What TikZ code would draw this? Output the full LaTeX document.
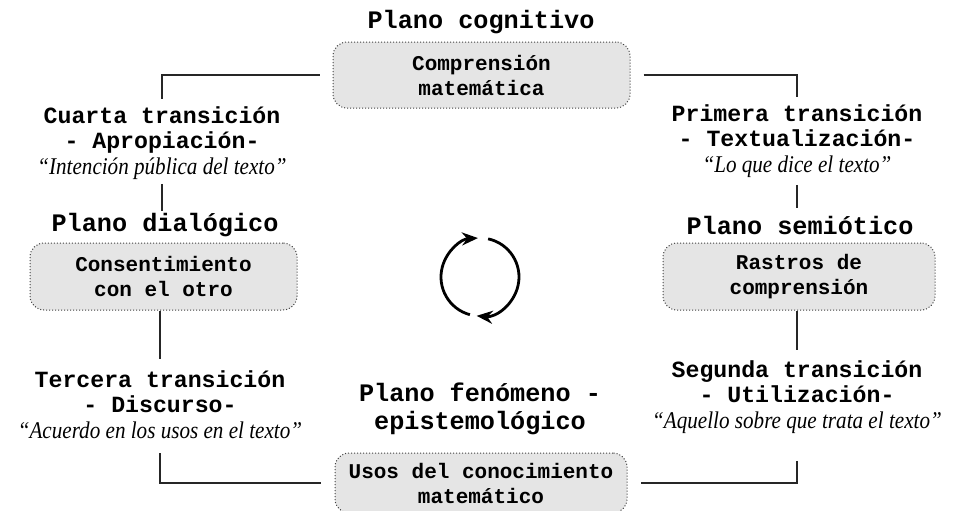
\documentclass[tikz,border=0pt]{standalone}
\usepackage{fontspec}
\setmainfont{Liberation Serif}
\setmonofont{Liberation Mono}
\newfontfamily\cita[FakeStretch=0.88]{Liberation Serif}
\usetikzlibrary{arrows.meta}

\tikzset{
  plano/.style={font=\ttfamily\bfseries\fontsize{12.6}{14}\selectfont, align=center, inner sep=0pt},
  caja/.style={draw=black!75, densely dotted, line width=0.5pt, fill=black!10, rounded corners=7pt,
    align=center, inner sep=0pt, font=\ttfamily\bfseries\fontsize{10.5}{12.5}\selectfont},
  trans/.style={font=\ttfamily\bfseries\fontsize{11.6}{12.3}\selectfont, align=center, inner sep=0pt},
  enlace/.style={draw=black!85, line width=0.6pt},
  giro/.style={line width=1.4pt, -{Stealth[length=8pt,width=6.5pt]}},
}
\newcommand{\frase}[1]{{\cita\mdseries\itshape\fontsize{12}{12.3}\selectfont “#1”}}

\begin{document}
\begin{tikzpicture}[x=0.5pt,y=-0.5pt]
  \useasboundingbox (0,0) rectangle (955,510);

  % planos
  \node[plano] at (481,22) (cogT) {Plano cognitivo};
  \node[caja, minimum width=148.5pt, minimum height=33pt] at (481.5,75) (cog) {Comprensión\\matemática};

  \node[plano] at (165,225) (dialT) {Plano dialógico};
  \node[caja, minimum width=133.5pt, minimum height=33.5pt] at (163.5,276.5) (dial) {Consentimiento\\con el otro};

  \node[plano] at (800,225) (semT) {Plano semiótico};
  \node[caja, minimum width=136pt, minimum height=33.5pt] at (799,276.5) (sem) {Rastros de\\comprensión};

  \node[plano] at (480,409) (epiT) {Plano fenómeno -\\epistemológico};
  \node[caja, minimum width=146pt, minimum height=30pt] at (481,483) (epi) {Usos del conocimiento\\matemático};

  % transiciones
  \node[trans] at (797,141) (t1) {Primera transición\\- Textualización-\\[0.8pt]\frase{Lo que dice el texto}};
  \node[trans] at (797,397) (t2) {Segunda transición\\- Utilización-\\[0.8pt]\frase{Aquello sobre que trata el texto}};
  \node[trans] at (160,405) (t3) {Tercera transición\\- Discurso-\\[0.8pt]\frase{Acuerdo en los usos en el texto}};
  \node[trans] at (162,143) (t4) {Cuarta transición\\- Apropiación-\\[0.8pt]\frase{Intención pública del texto}};

  \draw[enlace, shorten <=6.5pt, shorten >=3.5pt] (cog.east) -| (t1.north);
  \draw[enlace, shorten <=3.5pt, shorten >=3.5pt] (t1.south) -- (t1.south |- semT.north);
  \draw[enlace, shorten >=5pt] (t2.north |- sem.south) -- (t2.north);
  \draw[enlace, shorten <=13.5pt, shorten >=6.5pt] (t2.south) |- (epi.east);
  \draw[enlace, shorten <=7pt, shorten >=7pt] (t3.south) |- (epi.west);
  \draw[enlace, shorten >=6pt] (t3.north |- dial.south) -- (t3.north);
  \draw[enlace, shorten <=2pt, shorten >=1pt] (t4.south) -- (t4.south |- dialT.north);
  \draw[enlace, shorten <=6.5pt, shorten >=3.5pt] (cog.west) -| (t4.north);

  % ciclo
  \coordinate (ciclo) at (480,277);
  \draw[giro] (ciclo) ++(105:39) arc[start angle=105, end angle=267, radius=39];
  \draw[giro] (ciclo) ++(-78:39) arc[start angle=-78, end angle=95, radius=39];
\end{tikzpicture}
\end{document}
